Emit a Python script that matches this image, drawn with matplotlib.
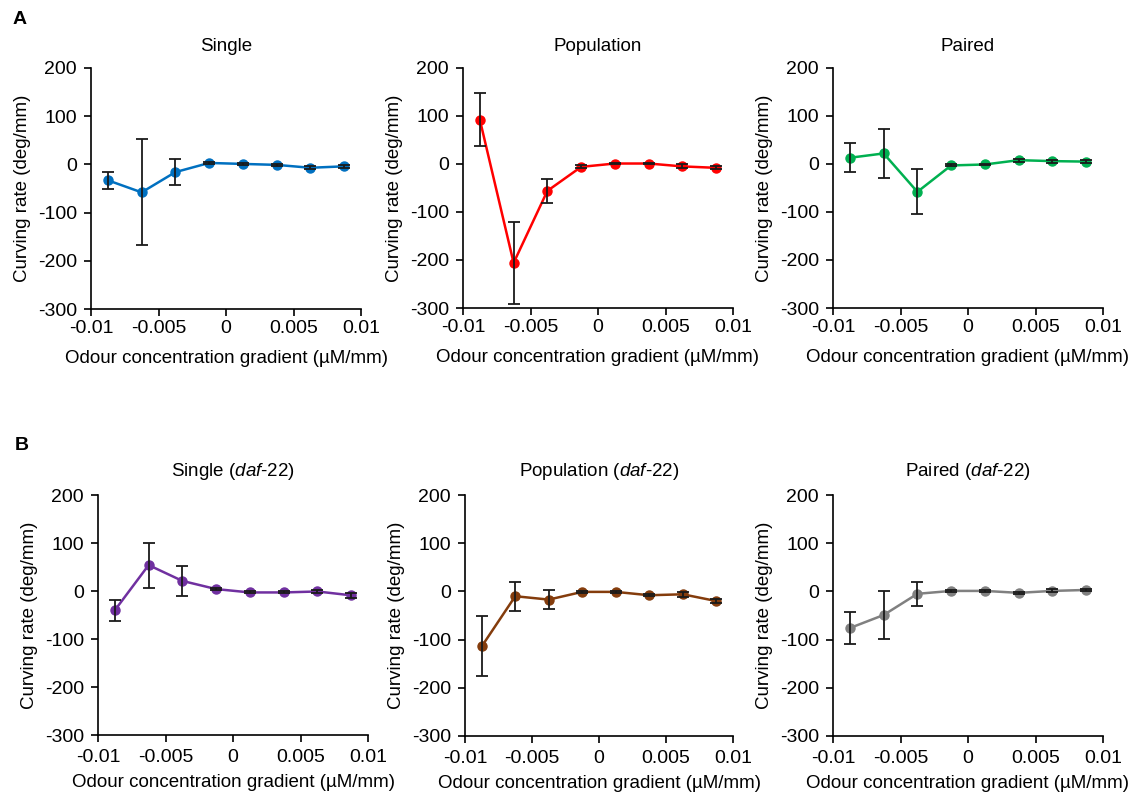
import matplotlib
matplotlib.use("Agg")
import matplotlib.pyplot as plt

plt.rcParams['font.family'] = ['Liberation Sans', 'DejaVu Sans']
plt.rcParams['mathtext.fontset'] = 'custom'
plt.rcParams['mathtext.rm'] = 'Liberation Sans'
plt.rcParams['mathtext.it'] = 'Liberation Sans:italic'
plt.rcParams['axes.unicode_minus'] = False

x = [-0.00875, -0.00625, -0.00375, -0.00125, 0.00125, 0.00375, 0.00625, 0.00875]

single_y = [-33, -58, -16, 3, 1, -1, -7, -4]
single_e = [17, 110, 27, 2, 2, 2, 3, 3]
population_y = [92, -206, -56, -6, 1, 1, -5, -8]
population_e = [55, 86, 25, 3, 2, 2, 4, 3]
paired_y = [13, 22, -58, -3, -1, 8, 6, 5]
paired_e = [30, 51, 47, 2, 2, 3, 3, 3]
single_daf_y = [-40, 54, 21, 4, -3, -3, -1, -9]
single_daf_e = [22, 47, 32, 2, 2, 2, 4, 5]
population_daf_y = [-114, -10, -17, -1, -1, -8, -6, -20]
population_daf_e = [62, 30, 20, 2, 2, 2, 5, 5]
paired_daf_y = [-76, -49, -5, 1, 1, -3, 1, 3]
paired_daf_e = [34, 50, 25, 2, 2, 2, 3, 3]

titles = ["Single", "Population", "Paired",
          "Single ($\\it{daf}$-$\\it{22}$)", "Population ($\\it{daf}$-$\\it{22}$)",
          "Paired ($\\it{daf}$-$\\it{22}$)"]
ys = [single_y, population_y, paired_y, single_daf_y, population_daf_y, paired_daf_y]
es = [single_e, population_e, paired_e, single_daf_e, population_daf_e, paired_daf_e]
colors = ["#0070C0", "#FF0000", "#00B050", "#7030A0", "#843C0C", "#808080"]

xticks = [-0.01, -0.005, 0, 0.005, 0.01]
xticklabels = ["-0.01", "-0.005", "0", "0.005", "0.01"]
yticks = [-300, -200, -100, 0, 100, 200]

W, H = 1129, 801
boxes = [(91, 361, 68, 309), (463, 733, 68, 308), (833, 1103, 68, 308),
         (98, 368, 495, 735), (465, 733, 495, 736), (833, 1103, 495, 736)]

fig = plt.figure(figsize=(W / 100, H / 100), dpi=100)
for i in range(6):
    l, r, t, b = boxes[i]
    ax = fig.add_axes([l / W, 1 - b / H, (r - l) / W, (b - t) / H])
    ax.errorbar(x, ys[i], yerr=es[i], fmt='none', ecolor='#1a1a1a', elinewidth=1.3,
                capsize=4, capthick=1.3, zorder=3)
    ax.plot(x, ys[i], '-o', color=colors[i], lw=1.8, ms=6.5, zorder=2)
    ax.set_xlim(-0.01, 0.01)
    ax.set_ylim(-300, 200)
    ax.set_xticks(xticks)
    ax.set_xticklabels(xticklabels)
    ax.set_yticks(yticks)
    ax.spines['top'].set_visible(False)
    ax.spines['right'].set_visible(False)
    for s in ['left', 'bottom']:
        ax.spines[s].set_linewidth(1.2)
    ax.tick_params(direction='out', length=5, width=1.2, labelsize=14)
    ax.tick_params(axis='y', pad=5)
    ax.tick_params(axis='x', pad=3 if i < 3 else 5)
    ax.set_title(titles[i], fontsize=13.5, pad=12 if i < 3 else 14)
    ax.set_xlabel("Odour concentration gradient (µM/mm)", fontsize=13.5,
                  labelpad=9 if i < 3 else 6)
    ax.set_ylabel("Curving rate (deg/mm)", fontsize=13.5, labelpad=5)

fig.text(13 / W, 1 - 20 / H, "A", fontsize=14, fontweight='bold', va='center', ha='left')
fig.text(15 / W, 1 - 445 / H, "B", fontsize=14, fontweight='bold', va='center', ha='left')

fig.savefig("out.png", dpi=100)
